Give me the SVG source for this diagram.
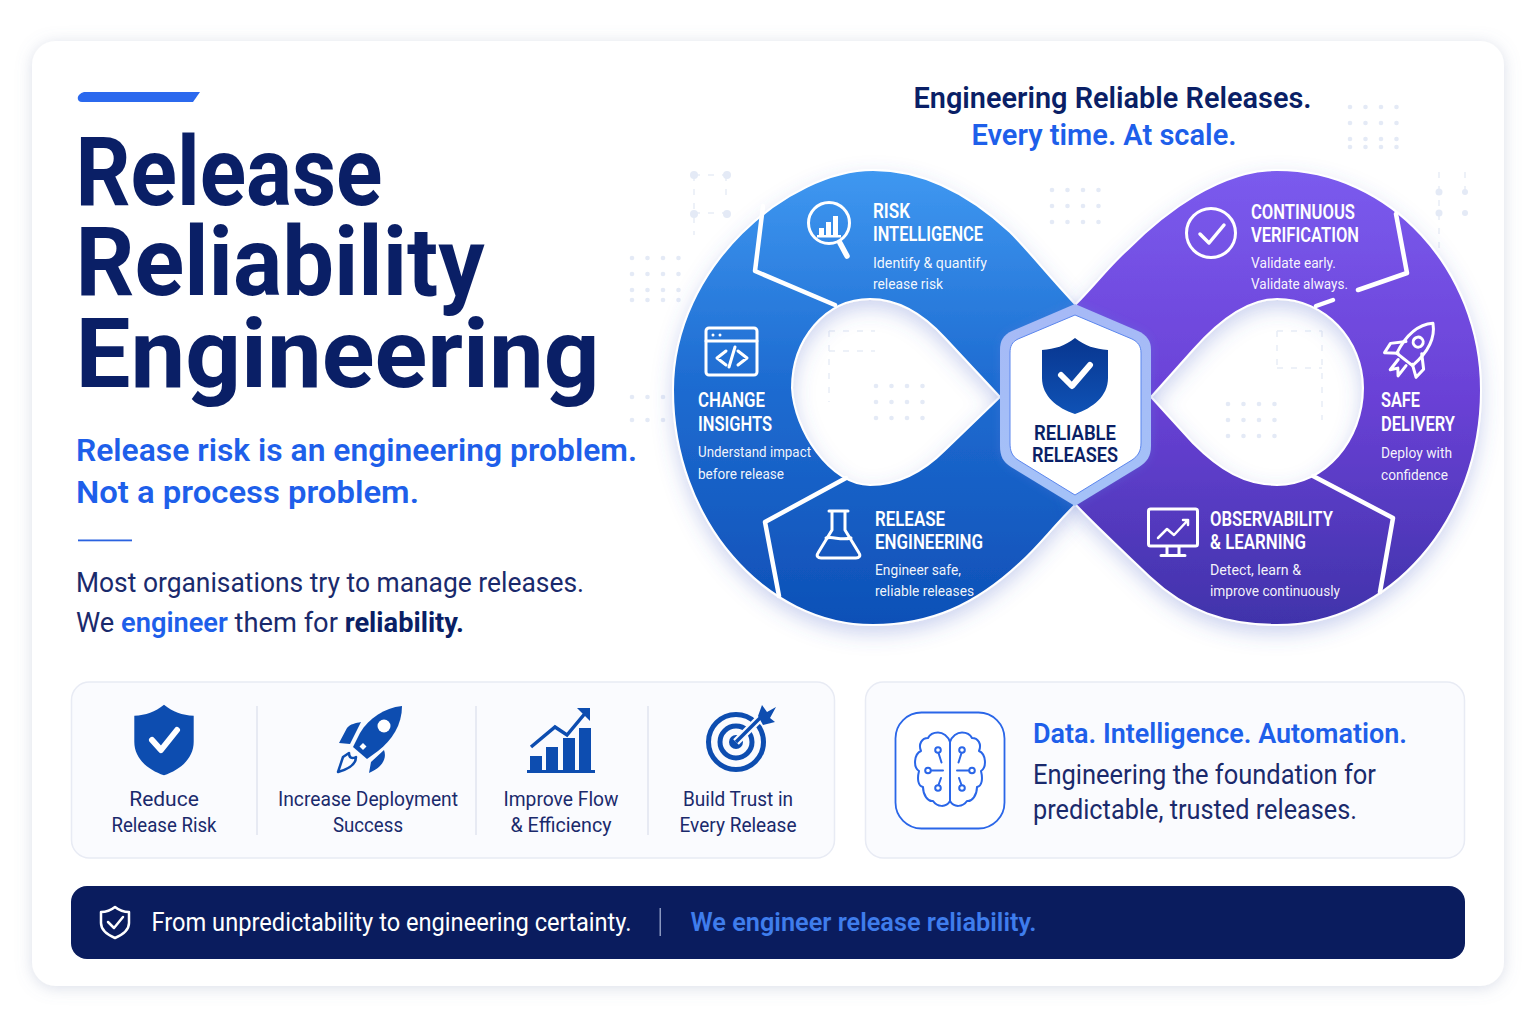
<svg xmlns="http://www.w3.org/2000/svg" width="1536" height="1024" viewBox="0 0 1536 1024">
<defs>
<linearGradient id="gb" x1="0" y1="0" x2="0" y2="1"><stop offset="0" stop-color="#3f98f1"/><stop offset=".45" stop-color="#1f6dd2"/><stop offset="1" stop-color="#0e50b7"/></linearGradient>
<linearGradient id="gp" x1="0" y1="0" x2="0" y2="1"><stop offset="0" stop-color="#7b5bee"/><stop offset=".5" stop-color="#6a41d6"/><stop offset="1" stop-color="#4033aa"/></linearGradient>
<linearGradient id="gs" x1="0" y1="0" x2="0" y2="1"><stop offset="0" stop-color="#08368f"/><stop offset="1" stop-color="#0f52b5"/></linearGradient>
<linearGradient id="gr" x1="0" y1="0" x2="0" y2="1"><stop offset="0" stop-color="#a6b9f6"/><stop offset="1" stop-color="#a4c2f8"/></linearGradient>
<filter id="card" x="-5%" y="-5%" width="110%" height="110%"><feDropShadow dx="0" dy="2" stdDeviation="8" flood-color="#7a88ad" flood-opacity=".28"/></filter>
<filter id="lobe" x="-10%" y="-10%" width="120%" height="120%"><feDropShadow dx="0" dy="8" stdDeviation="10" flood-color="#4a62c8" flood-opacity=".28"/></filter>
<filter id="soft" x="-10%" y="-10%" width="120%" height="120%"><feDropShadow dx="0" dy="0" stdDeviation="5" flood-color="#5a78dc" flood-opacity=".35"/></filter>
<g id="row"><circle cx="0" cy="0" r="2.300"/><circle cx="15.500" cy="0" r="2.300"/><circle cx="31" cy="0" r="2.300"/><circle cx="46.500" cy="0" r="2.300"/></g>
<g id="grid"><use href="#row"/><use href="#row" y="16"/><use href="#row" y="32"/></g>
<path id="sh" d="M0 -38 C10 -30 20 -27 33 -26 L33 2 C33 20 18 32 0 38 C-18 32 -33 20 -33 2 L-33 -26 C-20 -27 -10 -30 0 -38 Z"/>
<path id="hemi" d="M950 742C948 736 943 732.500 938 732.500C932 732.500 929 736 928 738C922 738 918 744 921 751C914 754 913 767 919 771C917 779 918 786 923 787C923 795 928 802 933 801C937 807 946 808 950 801Z"/>
<g id="circ"><circle cx="938" cy="750" r="2.800"/><path d="M938.500 753L941.500 762.500"/><circle cx="928" cy="770.500" r="2.800"/><path d="M931 770.500H943"/><circle cx="938" cy="788" r="2.800"/><path d="M938.500 785L941 778"/></g>
</defs>
<style>
text{font-family:Roboto,"Liberation Sans",sans-serif}
.t{font-weight:700;font-size:97px;fill:#0a1f66}
.s{font-weight:600;font-size:32px;fill:#1e5fea}
.b{font-size:27px;fill:#1a2a6c}
.h{font-weight:600;font-size:29px}
.n{font-weight:600;font-size:20px;fill:#fff}
.d{font-size:15.500px;fill:#fff;fill-opacity:.95}
.k{font-size:21px;fill:#1a2a6c;text-anchor:middle}
.ic{fill:none;stroke:#fff;stroke-width:3;stroke-linecap:round;stroke-linejoin:round}
.sep{fill:none;stroke:#fff;stroke-width:4.500;stroke-linecap:round;stroke-linejoin:round}
.fb{fill:#0d4db0}
.br{fill:none;stroke:#2a66e8;stroke-width:2;stroke-linecap:round;stroke-linejoin:round}
.fd{fill:#e4eaf6}
</style>
<rect width="1536" height="1024" fill="#fff"/>
<rect x="32" y="41" width="1472" height="945" rx="24" fill="#fff" filter="url(#card)"/>
<g id="deco" class="fd">
<use href="#grid" x="632" y="258"/><use href="#row" x="632" y="300"/>
<use href="#row" x="632" y="397"/><use href="#row" x="632" y="420"/>
<use href="#grid" x="1052" y="190"/>
<use href="#grid" x="1350" y="107"/><use href="#row" x="1350" y="147"/>
<use href="#grid" x="876" y="386"/>
<use href="#grid" x="1228" y="404"/>
<g fill="none" stroke="#e8edf6" stroke-width="1.500" stroke-dasharray="6 8"><path d="M694 175H726M694 175V235M726 175V200M694 213H726"/><path d="M1439 172V250M1465 172V200"/><path d="M829 331H875M829 351H875M829 331V402"/><path d="M1277 331H1322M1277 368H1322M1322 331V420M1277 331V368"/></g>
<circle cx="694" cy="175" r="4"/><circle cx="727" cy="175" r="4"/><circle cx="694" cy="214" r="4"/><circle cx="727" cy="214" r="4"/>
<circle cx="1439" cy="192" r="3.500"/><circle cx="1439" cy="213" r="3.500"/><circle cx="1465" cy="192" r="3"/><circle cx="1465" cy="213" r="3"/>
</g>
<g id="heading">
<path d="M84 92H200L193 102H82C76 102 76 94 84 92Z" fill="#2b69ee"/>
<text class="t" x="75.500" y="205" textLength="307" lengthAdjust="spacingAndGlyphs">Release</text>
<text class="t" x="75.500" y="295" textLength="409" lengthAdjust="spacingAndGlyphs">Reliability</text>
<text class="t" x="75.500" y="387" textLength="524" lengthAdjust="spacingAndGlyphs">Engineering</text>
<text class="s" x="76" y="461" textLength="561" lengthAdjust="spacingAndGlyphs">Release risk is an engineering problem.</text>
<text class="s" x="76" y="503" textLength="343" lengthAdjust="spacingAndGlyphs">Not a process problem.</text>
<rect x="78" y="539.500" width="54" height="1.800" fill="#2a62e0"/>
<text class="b" x="76" y="592" textLength="508" lengthAdjust="spacingAndGlyphs">Most organisations try to manage releases.</text>
<text class="b" x="76" y="632" textLength="388" lengthAdjust="spacingAndGlyphs">We <tspan fill="#1e5fea" font-weight="600">engineer</tspan> them for <tspan fill="#0a1f66" font-weight="700">reliability.</tspan></text>
<text class="h" x="913.500" y="108" fill="#0a1f66" textLength="398" lengthAdjust="spacingAndGlyphs">Engineering Reliable Releases.</text>
<text class="h" x="971.500" y="145" fill="#1e5fea" textLength="265" lengthAdjust="spacingAndGlyphs">Every time. At scale.</text>
</g>
<g id="loop">
<path id="lobe-blue" filter="url(#lobe)" fill="url(#gb)" stroke="#fff" stroke-width="2" fill-rule="evenodd" d="M1075 304C1045 272 1030 252 1010 232C970 195 925 170 873 170C790 170 673 265 673 390C673 520 765 625 873 625C930 625 975 605 1020 563C1040 545 1050 530 1075 505L1100 405ZM1000 397L945 338C925 316 900 299 870 299C825 299 792 340 792 388C794 430 830 485 870 485C900 485 925 470 945 450Z"/>
<path id="lobe-purple" filter="url(#lobe)" fill="url(#gp)" stroke="#fff" stroke-width="2" fill-rule="evenodd" d="M1076 304C1095 285 1110 265 1127 250C1165 212 1220 170 1277 170C1390 170 1481 270 1481 390C1481 520 1390 625 1277 625C1225 625 1185 610 1150 577C1125 553 1100 530 1076 505L1050 405ZM1151 397L1193 350C1215 325 1245 299 1277 299C1325 299 1363 340 1363 388C1363 440 1325 485 1277 485C1245 485 1220 470 1193 443Z"/>
</g>
<g id="connectors">
<path class="sep" d="M763 206L755 271L835 305"/>
<path class="sep" d="M846 478L765 522L779 596"/>
<path class="sep" d="M1396 214L1407 273L1358 290"/>
<path class="sep" d="M1333 300L1316 306"/>
<path class="sep" d="M1313 476L1393 518L1380 592"/>
</g>
<g id="node-risk">
<g class="ic"><circle cx="829" cy="223" r="20.500"/><path d="M840 243L847 256" stroke-width="5.500"/></g>
<path d="M819 228h5v7h-5zM826 222h5v13h-5zM833 216h5v19h-5zM817 235h24v2.500h-24z" fill="#fff"/>
<text class="n" x="873" y="218" textLength="37" lengthAdjust="spacingAndGlyphs">RISK</text>
<text class="n" x="873" y="241" textLength="110" lengthAdjust="spacingAndGlyphs">INTELLIGENCE</text>
<text class="d" x="873" y="267.500" textLength="114" lengthAdjust="spacingAndGlyphs">Identify &amp; quantify</text>
<text class="d" x="873" y="288.500" textLength="70" lengthAdjust="spacingAndGlyphs">release risk</text>
</g>
<g id="node-change">
<g class="ic"><rect x="706" y="328" width="51" height="47" rx="3"/><path d="M706 341H757"/><path d="M726 351L717 358L726 365M738 351L747 358L738 365M735 347L729 367"/></g>
<circle cx="713" cy="335" r="1.500" fill="#fff"/><circle cx="720" cy="335" r="1.500" fill="#fff"/>
<text class="n" x="698" y="407" textLength="67" lengthAdjust="spacingAndGlyphs">CHANGE</text>
<text class="n" x="698" y="431" textLength="74" lengthAdjust="spacingAndGlyphs">INSIGHTS</text>
<text class="d" x="698" y="457" textLength="113" lengthAdjust="spacingAndGlyphs">Understand impact</text>
<text class="d" x="698" y="479" textLength="86" lengthAdjust="spacingAndGlyphs">before release</text>
</g>
<g id="node-release">
<g class="ic"><path d="M829 511H848M832 511V530L818 553C816 556 818 558 821 558H856C859 558 861 556 859 553L845 530V511"/><path d="M826 538C834 536 840 541 851 538"/></g>
<text class="n" x="875" y="526" textLength="70" lengthAdjust="spacingAndGlyphs">RELEASE</text>
<text class="n" x="875" y="549" textLength="108" lengthAdjust="spacingAndGlyphs">ENGINEERING</text>
<text class="d" x="875" y="574.500" textLength="86" lengthAdjust="spacingAndGlyphs">Engineer safe,</text>
<text class="d" x="875" y="595.500" textLength="99" lengthAdjust="spacingAndGlyphs">reliable releases</text>
</g>
<g id="node-verify">
<g class="ic"><circle cx="1211" cy="233" r="24.500"/><path d="M1200 234L1209 243L1224 225" stroke-width="3.500"/></g>
<text class="n" x="1251" y="219" textLength="104" lengthAdjust="spacingAndGlyphs">CONTINUOUS</text>
<text class="n" x="1251" y="242" textLength="108" lengthAdjust="spacingAndGlyphs">VERIFICATION</text>
<text class="d" x="1251" y="267.500" textLength="85" lengthAdjust="spacingAndGlyphs">Validate early.</text>
<text class="d" x="1251" y="288.500" textLength="97" lengthAdjust="spacingAndGlyphs">Validate always.</text>
</g>
<g id="node-delivery">
<g class="ic" transform="translate(1412 350) rotate(38)"><path d="M0 -34C11 -24 14 -8 10 12H-10C-14 -8 -11 -24 0 -34Z"/><circle cx="0" cy="-10" r="5"/><path d="M-10 -3L-21 8L-20 19L-9 11M10 -3L21 8L20 19L9 11M-5 16L-5 29L0 23L5 29L5 16"/></g>
<text class="n" x="1381" y="407" textLength="39" lengthAdjust="spacingAndGlyphs">SAFE</text>
<text class="n" x="1381" y="431" textLength="74" lengthAdjust="spacingAndGlyphs">DELIVERY</text>
<text class="d" x="1381" y="457.500" textLength="71" lengthAdjust="spacingAndGlyphs">Deploy with</text>
<text class="d" x="1381" y="479.500" textLength="67" lengthAdjust="spacingAndGlyphs">confidence</text>
</g>
<g id="node-observe">
<g class="ic"><rect x="1148.500" y="509" width="49" height="37" rx="2"/><path d="M1167 547V555M1179 547V555M1161 555.500H1185"/><path d="M1158 538L1167 529L1174 535L1188 520M1183 520H1188V525" stroke-width="2.500"/></g>
<text class="n" x="1210" y="526" textLength="123" lengthAdjust="spacingAndGlyphs">OBSERVABILITY</text>
<text class="n" x="1210" y="549" textLength="96" lengthAdjust="spacingAndGlyphs">&amp; LEARNING</text>
<text class="d" x="1210" y="574.500" textLength="91" lengthAdjust="spacingAndGlyphs">Detect, learn &amp;</text>
<text class="d" x="1210" y="595.500" textLength="130" lengthAdjust="spacingAndGlyphs">improve continuously</text>
</g>
<g id="node-hub">
<path filter="url(#soft)" fill="url(#gr)" d="M1075 304L1138 331C1147 335 1151 341 1151 350V446C1151 456 1147 462 1139 467L1075 506L1011 467C1003 462 1000 456 1000 446V350C1000 341 1003 335 1012 331Z"/>
<path fill="#fff" stroke="#5b86ee" stroke-width="1" d="M1075 315L1132 339C1138 342 1141 346 1141 353V443C1141 451 1138 456 1132 460L1075 495L1018 460C1012 456 1010 451 1010 443V353C1010 346 1012 342 1018 339Z"/>
<use href="#sh" x="1075" y="376" fill="url(#gs)"/>
<path d="M1061 375L1072 386L1090 365" fill="none" stroke="#fff" stroke-width="6" stroke-linecap="round" stroke-linejoin="round"/>
<text x="1075" y="439.500" text-anchor="middle" font-weight="600" font-size="20" fill="#0a1f66" textLength="82" lengthAdjust="spacingAndGlyphs">RELIABLE</text>
<text x="1075" y="461.500" text-anchor="middle" font-weight="600" font-size="20" fill="#0a1f66" textLength="86" lengthAdjust="spacingAndGlyphs">RELEASES</text>
</g>
<g id="benefits">
<rect x="71.500" y="682" width="763" height="176" rx="18" fill="#fafbfe" stroke="#e8ebf4" stroke-width="1.500"/>
<path d="M257 706V835M476 706V835M648 706V835" stroke="#e1e5f0" stroke-width="1.500"/>
<g id="benefit-risk">
<use href="#sh" transform="translate(164 740) scale(.9 .93)" class="fb"/>
<path d="M152 740L161 750L177 730" fill="none" stroke="#fff" stroke-width="6" stroke-linecap="round" stroke-linejoin="round"/>
<text class="k" x="164" y="806">Reduce</text><text class="k" x="164" y="832" textLength="105" lengthAdjust="spacingAndGlyphs">Release Risk</text>
</g>
<g id="benefit-deploy">
<path class="fb" d="M402 706C384 708 369 718 360 733L353 747L367 759L378 751C392 740 402 725 402 706Z"/>
<circle cx="384" cy="726" r="6.500" fill="#fff"/>
<path d="M363 743l3.500 3.500-3.500 3.500-3.500-3.500z" fill="#fff"/>
<path class="fb" d="M339 743L347 728C350 724 356 723 361 722L350 744ZM369 773L371 762L384 750C387 758 383 767 369 773Z"/>
<path d="M338 772L343 757L349 753C349 758 352 759 356 757C356 764 349 769 338 772Z" fill="none" stroke="#0d4db0" stroke-width="2.500" stroke-linejoin="round"/>
<text class="k" x="368" y="806" textLength="180" lengthAdjust="spacingAndGlyphs">Increase Deployment</text><text class="k" x="368" y="832" textLength="70" lengthAdjust="spacingAndGlyphs">Success</text>
</g>
<g id="benefit-flow">
<rect class="fb" x="530" y="756" width="12" height="14"/><rect class="fb" x="546" y="747" width="12" height="23"/><rect class="fb" x="563" y="738" width="12" height="32"/><rect class="fb" x="579" y="728" width="12" height="42"/>
<rect class="fb" x="527" y="770" width="68" height="3"/>
<path d="M531 747L555 727L567 735L587 711" fill="none" stroke="#0d4db0" stroke-width="3.500"/>
<path class="fb" d="M577 708H590V721Z"/>
<text class="k" x="561" y="806" textLength="115" lengthAdjust="spacingAndGlyphs">Improve Flow</text><text class="k" x="561" y="832" textLength="101" lengthAdjust="spacingAndGlyphs">&amp; Efficiency</text>
</g>
<g id="benefit-trust">
<g fill="none" stroke="#0d4db0" stroke-width="5"><circle cx="736" cy="742" r="27.500"/><circle cx="736" cy="742" r="16"/></g>
<circle cx="736" cy="742" r="7" class="fb"/>
<path d="M736 742L764 714" stroke="#fafbfe" stroke-width="8"/><path d="M736 742L764 714" stroke="#0d4db0" stroke-width="3.500"/>
<path class="fb" d="M758 716L762 705L767 712L776 707L770 718L775 722L763 725Z"/>
<text class="k" x="738" y="806" textLength="110" lengthAdjust="spacingAndGlyphs">Build Trust in</text><text class="k" x="738" y="832" textLength="117" lengthAdjust="spacingAndGlyphs">Every Release</text>
</g>
</g>
<g id="foundation">
<rect x="865.500" y="682" width="599" height="176" rx="18" fill="#fafbfe" stroke="#e8ebf4" stroke-width="1.500"/>
<rect x="895.500" y="712.500" width="109" height="116" rx="26" fill="#fff" stroke="#2a66e8" stroke-width="1.800"/>
<g class="br" id="brain-l"><use href="#hemi"/><use href="#circ"/></g>
<g class="br" id="brain-r" transform="translate(1900 0) scale(-1 1)"><use href="#hemi"/><use href="#circ"/></g>
<text x="1033" y="743" font-size="27" font-weight="600" fill="#1e5fea" textLength="374" lengthAdjust="spacingAndGlyphs">Data. Intelligence. Automation.</text>
<text x="1033" y="783.500" font-size="27" fill="#1a2a6c" textLength="343" lengthAdjust="spacingAndGlyphs">Engineering the foundation for</text>
<text x="1033" y="818.500" font-size="27" fill="#1a2a6c" textLength="324" lengthAdjust="spacingAndGlyphs">predictable, trusted releases.</text>
</g>
<g id="banner">
<rect x="71" y="886" width="1394" height="73" rx="16" fill="#0a1c5e"/>
<path d="M115 907C120 911 125 912 129 912V923C129 930 122 935 115 938C108 935 101 930 101 923V912C105 912 110 911 115 907Z" fill="none" stroke="#fff" stroke-width="2.500" stroke-linejoin="round"/>
<path d="M108 922L114 928L123 917" fill="none" stroke="#fff" stroke-width="2.500" stroke-linecap="round" stroke-linejoin="round"/>
<text x="151.500" y="930.500" font-size="25" fill="#fff" textLength="480" lengthAdjust="spacingAndGlyphs">From unpredictability to engineering certainty.</text>
<rect x="659.500" y="908" width="1.500" height="28" fill="#8a97bf"/>
<text x="690.500" y="930.500" font-size="25" font-weight="600" fill="#3f7dec" textLength="346" lengthAdjust="spacingAndGlyphs">We engineer release reliability.</text>
</g>
</svg>
